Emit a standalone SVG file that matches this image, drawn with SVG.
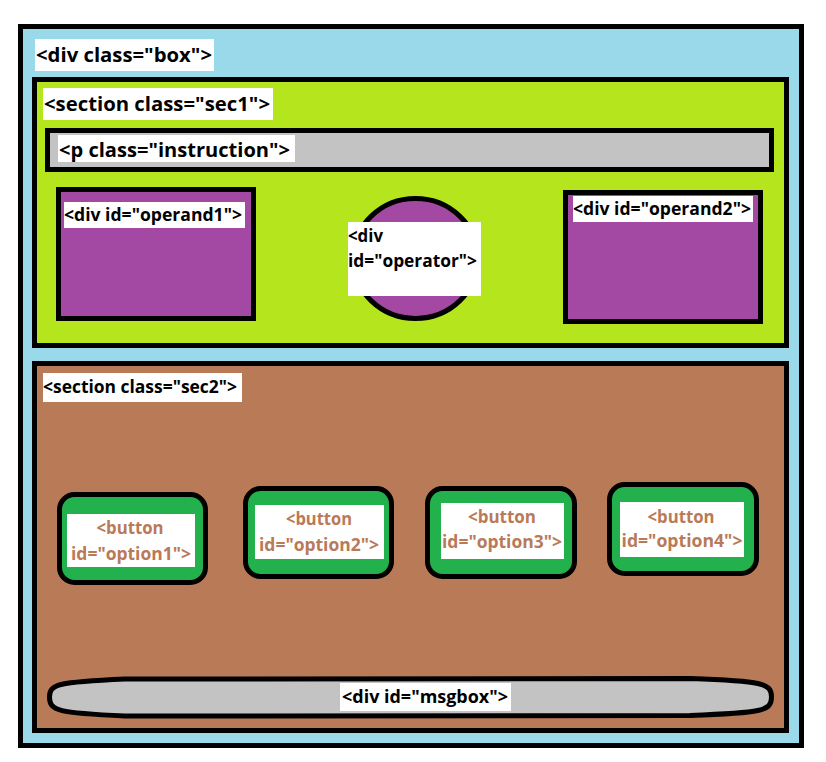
<svg xmlns="http://www.w3.org/2000/svg" width="826" height="762" viewBox="0 0 826 762">
<style>
.bd{stroke:#000;stroke-width:5}
.lbl{fill:#fff}
.t{font-family:"Open Sans","Noto Sans","DejaVu Sans",sans-serif;font-weight:bold;fill:#000}
.t20{font-size:20px}
.t17{font-size:17.5px}
.bt{font-family:"Open Sans","Noto Sans","DejaVu Sans",sans-serif;font-weight:bold;font-size:17.5px;fill:#b97a57;text-anchor:middle}
</style>
<rect width="826" height="762" fill="#fff"/>
<g id="box">
<rect class="bd" x="20.5" y="26.5" width="781" height="719" fill="#99d9ea"/>
<rect class="lbl" x="35" y="39" width="179" height="32"/>
<text class="t t20" x="36" y="62" textLength="176" lengthAdjust="spacingAndGlyphs">&lt;div class="box"&gt;</text>
</g>
<g id="sec1">
<rect class="bd" x="34.5" y="79.5" width="752" height="266" fill="#b5e61d"/>
<rect class="lbl" x="43" y="88" width="230" height="32"/>
<text class="t t20" x="44" y="111" textLength="226" lengthAdjust="spacingAndGlyphs">&lt;section class="sec1"&gt;</text>
</g>
<g id="instruction">
<rect class="bd" x="47.5" y="130.5" width="724" height="39" fill="#c3c3c3"/>
<rect class="lbl" x="58" y="135" width="237" height="27"/>
<text class="t t20" x="59" y="157" textLength="231" lengthAdjust="spacingAndGlyphs">&lt;p class="instruction"&gt;</text>
</g>
<g id="operand1">
<rect class="bd" x="58.5" y="189.5" width="195" height="129" fill="#a349a4"/>
<rect class="lbl" x="64" y="202" width="181" height="26"/>
<text class="t t17" x="64" y="221" textLength="178" lengthAdjust="spacingAndGlyphs">&lt;div id="operand1"&gt;</text>
</g>
<g id="operator">
<ellipse class="bd" cx="415.5" cy="258.5" rx="62.5" ry="60" fill="#a349a4"/>
<rect class="lbl" x="348" y="222" width="133" height="74"/>
<text class="t t17" x="348" y="242" textLength="35" lengthAdjust="spacingAndGlyphs">&lt;div</text>
<text class="t t17" x="348" y="267" textLength="129" lengthAdjust="spacingAndGlyphs">id="operator"&gt;</text>
</g>
<g id="operand2">
<rect class="bd" x="565.5" y="192.5" width="195" height="129" fill="#a349a4"/>
<rect class="lbl" x="573" y="196" width="180" height="26"/>
<text class="t t17" x="573" y="215" textLength="178" lengthAdjust="spacingAndGlyphs">&lt;div id="operand2"&gt;</text>
</g>
<g id="sec2">
<rect class="bd" x="34.5" y="363.5" width="752" height="367" fill="#b97a57"/>
<rect class="lbl" x="43" y="373" width="199" height="29"/>
<text class="t t17" x="43" y="393" textLength="194" lengthAdjust="spacingAndGlyphs">&lt;section class="sec2"&gt;</text>
</g>
<g id="option1">
<rect class="bd" x="59.5" y="494.5" width="146" height="88" rx="15" fill="#22b14c"/>
<rect class="lbl" x="67" y="514" width="128" height="53"/>
<text class="bt" x="130" y="534" textLength="67" lengthAdjust="spacingAndGlyphs">&lt;button</text>
<text class="bt" x="131" y="560" textLength="120" lengthAdjust="spacingAndGlyphs">id="option1"&gt;</text>
</g>
<g id="option2">
<rect class="bd" x="245.5" y="488.5" width="146" height="88" rx="15" fill="#22b14c"/>
<rect class="lbl" x="255" y="505" width="129" height="54"/>
<text class="bt" x="319" y="525" textLength="66" lengthAdjust="spacingAndGlyphs">&lt;button</text>
<text class="bt" x="319" y="551" textLength="120" lengthAdjust="spacingAndGlyphs">id="option2"&gt;</text>
</g>
<g id="option3">
<rect class="bd" x="427.5" y="488.5" width="147" height="88" rx="15" fill="#22b14c"/>
<rect class="lbl" x="441" y="503" width="123" height="56"/>
<text class="bt" x="502" y="523" textLength="68" lengthAdjust="spacingAndGlyphs">&lt;button</text>
<text class="bt" x="502" y="548" textLength="120" lengthAdjust="spacingAndGlyphs">id="option3"&gt;</text>
</g>
<g id="option4">
<rect class="bd" x="609.5" y="484.5" width="147" height="89" rx="15" fill="#22b14c"/>
<rect class="lbl" x="620" y="502" width="124" height="55"/>
<text class="bt" x="681" y="523" textLength="67" lengthAdjust="spacingAndGlyphs">&lt;button</text>
<text class="bt" x="682" y="547" textLength="121" lengthAdjust="spacingAndGlyphs">id="option4"&gt;</text>
</g>
<g id="msgbox">
<path class="bd" fill="#c3c3c3" d="M49.5,697 C49.5,684 58,682 125,679 L690,678.5 C762,681 771.5,683 771.5,697 C771.5,711 762,713 690,715.5 L125,716 C58,713 49.5,711 49.5,697 Z"/>
<rect class="lbl" x="340" y="683" width="171" height="28"/>
<text class="t t17" x="342" y="703" textLength="166" lengthAdjust="spacingAndGlyphs">&lt;div id="msgbox"&gt;</text>
</g>
<g id="connectors"/>
</svg>
